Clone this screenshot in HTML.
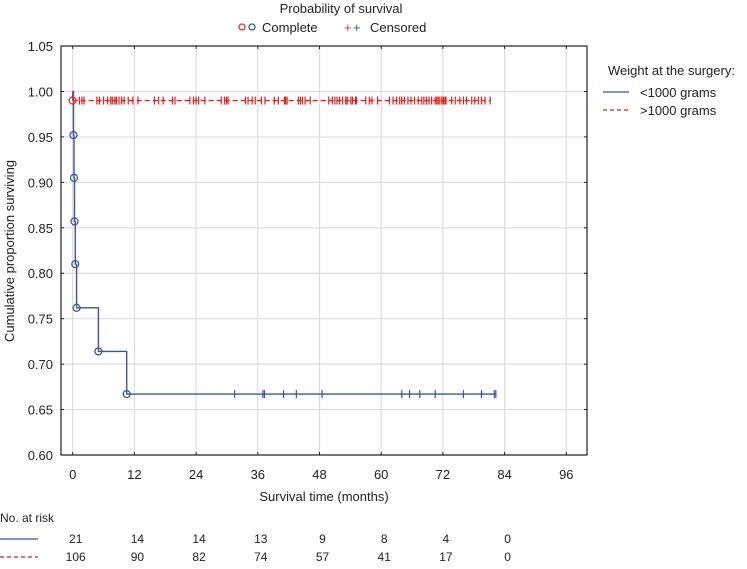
<!DOCTYPE html>
<html><head><meta charset="utf-8"><style>
body{margin:0;background:#fff;font-family:"Liberation Sans",Arial,sans-serif;}
svg text{font-family:"Liberation Sans",Arial,sans-serif;fill:#222;}
</style></head><body>
<svg id="chart" width="747" height="564" viewBox="0 0 747 564" xmlns="http://www.w3.org/2000/svg">
<g id="grid"></g>
<g id="axes"></g>
<g id="series"></g>
<text x="341" y="13" text-anchor="middle" font-size="13">Probability of survival</text>
<g>
<circle cx="242" cy="27" r="3" fill="none" stroke="#d33" stroke-width="1.3"/>
<circle cx="252" cy="27" r="3" fill="none" stroke="#3a55a0" stroke-width="1.3"/>
<text x="262" y="32" font-size="13">Complete</text></g>
<g>
<text x="344" y="32" font-size="13" style="fill:#d33">+</text>
<text x="353" y="32" font-size="13" style="fill:#3a55a0">+</text>
<text x="370" y="32" font-size="13">Censored</text></g>
<text transform="translate(14,251) rotate(-90)" text-anchor="middle" font-size="13">Cumulative proportion surviving</text>
<text x="324" y="501" text-anchor="middle" font-size="13">Survival time (months)</text>
<text x="608" y="75" font-size="13">Weight at the surgery:</text>
<g><line x1="603" x2="629" y1="92" y2="92" stroke="#3a55a0" stroke-width="1.3"/><text x="640" y="97" font-size="13">&lt;1000 grams</text></g>
<g><line x1="603" x2="629" y1="110" y2="110" stroke="#c22" stroke-width="1.3" stroke-dasharray="4,3"/><text x="640" y="115" font-size="13">&gt;1000 grams</text></g>
<text x="0" y="522" font-size="12">No. at risk</text>
<line x1="0" x2="38" y1="539" y2="539" stroke="#3a55a0" stroke-width="1.3"/>
<line x1="0" x2="38" y1="557" y2="557" stroke="#c22" stroke-width="1.3" stroke-dasharray="4,3"/>
<g id="risk"></g>
</svg>
<script>
const xTicks=[0,12,24,36,48,60,72,84,96];
const yTicks=[0.60,0.65,0.70,0.75,0.80,0.85,0.90,0.95,1.00,1.05];
const blueTimes=[0,0.15,0.25,0.35,0.5,0.75,5,10.5,82.3];
const blueSurv=[1.0,0.952,0.905,0.857,0.810,0.762,0.714,0.667,0.667];
const blueEvents=[0.15,0.25,0.35,0.5,0.75,5,10.5];
const blueCensored=[31.5,37,37.3,41,43.5,48.5,64,65.5,67.5,70.5,76,79.5,82,82.3];
const redSurv=0.99;
const redEnd=81.2;
const redCensored=[1.3,1.8,2.2,4.7,5.2,6.0,6.8,7.4,7.7,8.2,8.5,9.0,9.5,10.0,10.8,11.7,12.7,15.9,16.7,17.6,19.4,19.9,22.8,23.5,24.0,24.5,25.7,28.9,29.5,29.9,30.2,33.6,34.1,34.9,35.5,36.7,37.4,39.2,40.0,41.2,41.4,41.7,43.9,44.3,44.7,45.2,46.2,49.8,50.5,51.0,51.4,51.9,52.5,53.1,53.4,54.1,54.4,55.0,55.2,57.0,57.7,58.2,59.3,61.6,62.3,63.0,63.6,64.0,64.5,65.2,65.8,66.5,67.2,67.9,68.3,68.8,69.3,69.8,70.5,70.8,71.1,71.4,71.8,72.1,72.4,72.6,73.7,74.4,75.3,76.0,76.6,77.6,78.2,78.9,79.5,80.2,81.2];
const riskTimes=[0,12,24,36,48,60,72,84];
const riskUnder=[21,14,14,13,9,8,4,0];
const riskOver=[106,90,82,74,57,41,17,0];
const L=61,R=587,T=46,B=455;
const X=m=>72.7+m*(61.7/12);
const Y=v=>B-(v-0.60)/0.05*45.44;
const NS='http://www.w3.org/2000/svg';
function mk(tag,at,parent){const e=document.createElementNS(NS,tag);for(const k in at)e.setAttribute(k,at[k]);parent.appendChild(e);return e;}
const grid=document.getElementById('grid'),axes=document.getElementById('axes'),ser=document.getElementById('series'),risk=document.getElementById('risk');
xTicks.forEach(t=>{const g=mk('line',{x1:X(t),x2:X(t),y1:T,y2:B,stroke:'#ddd','stroke-width':1.2},grid);


mk('line',{x1:X(t),x2:X(t),y1:B,y2:B-3,stroke:'#222'},axes);mk('line',{x1:X(t),x2:X(t),y1:T,y2:T+3,stroke:'#222'},axes);
const tx=mk('text',{x:X(t),y:479,'text-anchor':'middle','font-size':13},axes);tx.textContent=t;

});
yTicks.forEach(t=>{const g=mk('line',{x1:L,x2:R,y1:Y(t),y2:Y(t),stroke:'#ddd','stroke-width':1.2},grid);


mk('line',{x1:L,x2:L+3,y1:Y(t),y2:Y(t),stroke:'#222'},axes);mk('line',{x1:R,x2:R-3,y1:Y(t),y2:Y(t),stroke:'#222'},axes);
const tx=mk('text',{x:53,y:Y(t)+5,'text-anchor':'end','font-size':13},axes);tx.textContent=t.toFixed(2);

});
const fr=mk('rect',{x:L,y:T,width:R-L,height:B-T,fill:'none',stroke:'#222','stroke-width':1.2},axes);


const rl=mk('line',{x1:X(0),x2:X(redEnd),y1:Y(redSurv),y2:Y(redSurv),stroke:'#d22','stroke-width':1.3,'stroke-dasharray':'5,3'},ser);


mk('line',{x1:X(0),x2:X(0),y1:Y(1.0),y2:Y(redSurv),stroke:'#d22','stroke-width':1.3},ser);
redCensored.forEach(m=>{const c=mk('line',{x1:X(m),x2:X(m),y1:Y(redSurv)-4,y2:Y(redSurv)+4,stroke:'#d22','stroke-width':1.2},ser);

});
let d='M'+X(blueTimes[0])+','+Y(blueSurv[0]);
for(let i=1;i<blueTimes.length;i++){d+=' H'+X(blueTimes[i])+' V'+Y(blueSurv[i]);}
const bp=mk('path',{d:d,fill:'none',stroke:'#3a55a0','stroke-width':1.4},ser);


blueCensored.forEach(m=>{const c=mk('line',{x1:X(m),x2:X(m),y1:Y(0.667)-4,y2:Y(0.667)+4,stroke:'#3a55a0','stroke-width':1.2},ser);

});
blueEvents.forEach(m=>{const i=blueTimes.indexOf(m);const c=mk('circle',{cx:X(m),cy:Y(blueSurv[i]),r:3.5,fill:'none',stroke:'#3a55a0','stroke-width':1.3},ser);

});
const rc=mk('circle',{cx:X(0),cy:Y(redSurv),r:3.5,fill:'none',stroke:'#d33','stroke-width':1.3},ser);


riskTimes.forEach((t,i)=>{
const a=mk('text',{x:X(t)+3,y:543,'text-anchor':'middle','font-size':12},risk);a.textContent=riskUnder[i];


const b=mk('text',{x:X(t)+3,y:561,'text-anchor':'middle','font-size':12},risk);b.textContent=riskOver[i];

});
</script>
</body></html>
